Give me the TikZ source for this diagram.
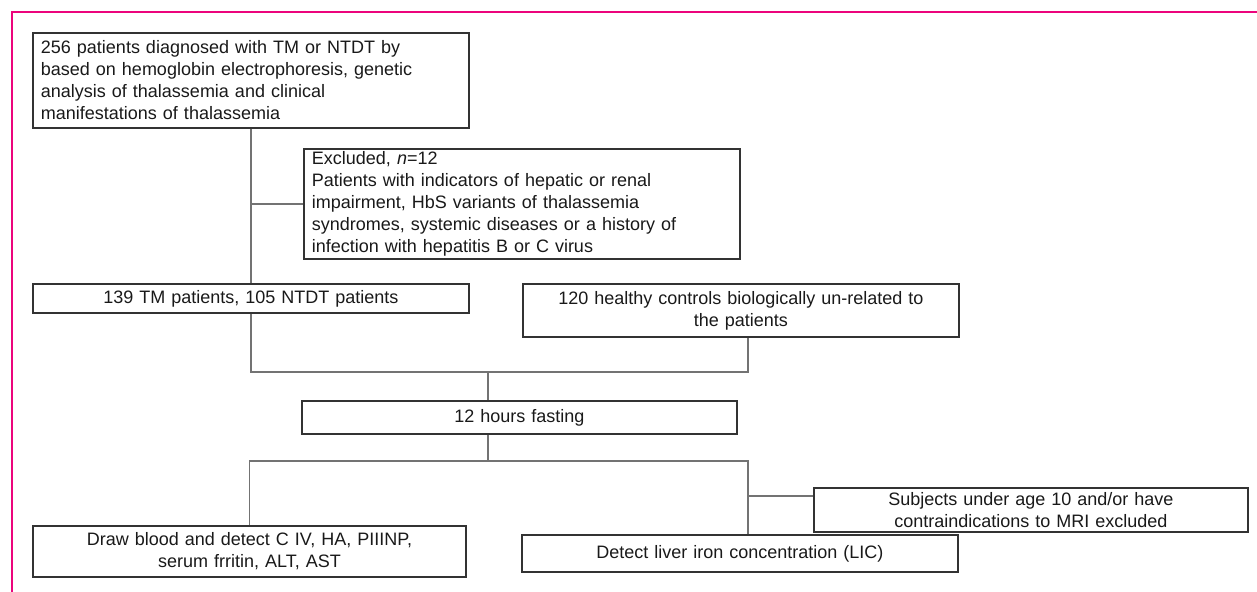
\documentclass[tikz,border=0pt]{standalone}
\usepackage{fontspec}
\setmainfont{Liberation Sans}
\begin{document}
\begin{tikzpicture}[x=0.5pt,y=-0.5pt]
        %colores
        \colorlet{marco}{magenta!85!red}
        \colorlet{borde}{black!80}
        \colorlet{linea}{black!55}
        \tikzset{
            caja/.style={draw=borde, line width=0.95pt, anchor=north west, inner xsep=4pt, inner ysep=1pt, text=black!90, font=\fontsize{9}{11}\selectfont},
            enlace/.style={draw=linea, line width=0.85pt}
        }

        % Marco rosa
        \useasboundingbox (0,0) rectangle (1257,592);
        \draw[marco, line width=1.1pt] (12,592) -- (12,12) -- (1257,12);

        % Cajas
        \node[caja, align=left, text width=210pt, minimum height=47.5pt] (diag) at (32,32)
            {256 patients diagnosed with TM or NTDT by\\ based on hemoglobin electrophoresis, genetic\\ analysis of thalassemia and clinical\\ manifestations of thalassemia};
        \node[caja, align=left, text width=210pt, minimum height=55pt] (excl) at (303,148)
            {Excluded, \textit{n}=12\\ Patients with indicators of hepatic or renal\\ impairment, HbS variants of thalassemia\\ syndromes, systemic diseases or a history of\\ infection with hepatitis B or C virus};
        \node[caja, align=center, text width=210pt, minimum height=14.5pt] (trial) at (32,283)
            {139 TM patients, 105 NTDT patients};
        \node[caja, align=center, text width=210pt, minimum height=26.5pt] (ctrl) at (522,283)
            {120 healthy controls biologically un-related to\\ the patients};
        \node[caja, align=center, text width=209.5pt, minimum height=16.5pt] (fast) at (301,400)
            {12 hours fasting};
        \node[caja, align=center, text width=209pt, minimum height=22pt] (subj) at (813,487)
            {Subjects under age 10 and/or have\\ contraindications to MRI excluded};
        \node[caja, align=center, text width=210pt, minimum height=18.5pt] (lic) at (521,534)
            {Detect liver iron concentration (LIC)};
        \node[caja, align=center, text width=208.5pt, minimum height=25.5pt] (blood) at (32,525)
            {Draw blood and detect C IV, HA, PIIINP,\\ serum frritin, ALT, AST};

        % Lineas
        \coordinate (union) at (488,372);
        \coordinate (rama) at (488,461);
        \coordinate (salida) at (747,496);
        \draw[enlace] (diag.south) -- (trial.north);
        \draw[enlace] (diag.south |- excl.west) -- (excl.west);
        \draw[enlace] (trial.south) |- (union) -| ([xshift=3.5pt]ctrl.south);
        \draw[enlace] (union) -- (union |- fast.north);
        \draw[enlace] (union |- fast.south) -- (rama);
        \draw[enlace] (blood.north) |- (rama) -| ([xshift=4pt]lic.north);
        \draw[enlace] (salida) -- (salida -| subj.west);
    \end{tikzpicture}
\end{document}
